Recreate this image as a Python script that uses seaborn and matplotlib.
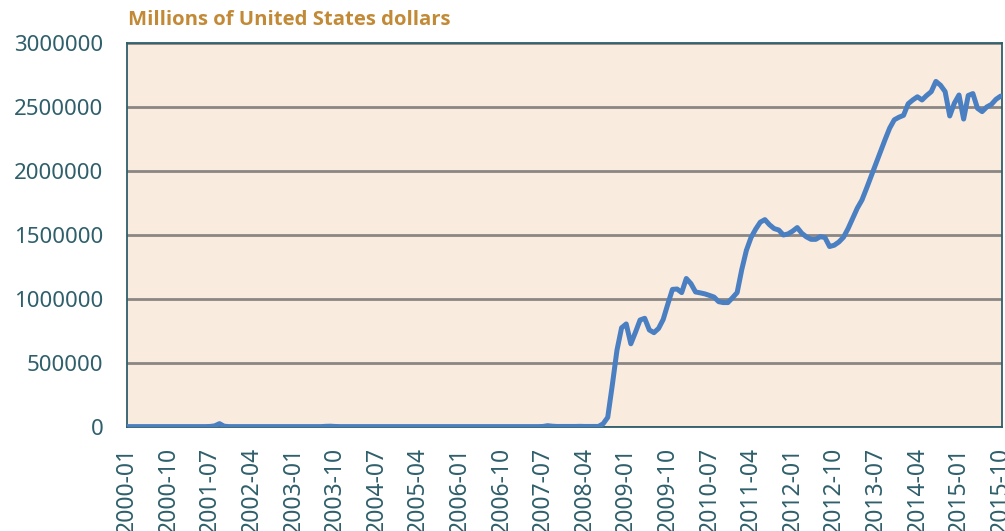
import pandas as pd
import matplotlib
matplotlib.use("Agg")
import matplotlib.pyplot as plt
import seaborn as sns

# 月度数据 2000-01 .. 2015-10
months = [str(p) for p in pd.period_range("2000-01", "2015-10", freq="M")]

values = [
    # 2000
    3000, 3000, 3000, 3000, 3000, 3000, 3000, 3000, 3000, 3000, 3000, 3000,
    # 2001
    3000, 3000, 3000, 3000, 3000, 3000, 4000, 9000, 26000, 6000, 3000, 3000,
    # 2002
    3000, 3000, 3000, 3000, 3000, 3000, 3000, 3000, 3000, 3000, 3000, 3000,
    # 2003
    3000, 3000, 3000, 3000, 3000, 3000, 3000, 5000, 6000, 4000, 3000, 3000,
    # 2004
    3000, 3000, 3000, 3000, 3000, 3000, 3000, 3000, 3000, 3000, 3000, 3000,
    # 2005
    3000, 3000, 3000, 3000, 3000, 3000, 3000, 3000, 3000, 3000, 3000, 3000,
    # 2006
    3000, 3000, 3000, 3000, 3000, 3000, 3000, 3000, 3000, 3000, 3000, 3000,
    # 2007
    3000, 3000, 3000, 3000, 3000, 3000, 4000, 10000, 6000, 4000, 4000, 4000,
    # 2008
    4000, 4000, 5000, 4000, 4000, 4000, 4000, 25000, 75000, 330000, 600000, 775000,
    # 2009
    805000, 650000, 740000, 836000, 849000, 758000, 737000, 770000, 840000, 960000, 1075000, 1078000,
    # 2010
    1050000, 1160000, 1120000, 1055000, 1048000, 1040000, 1028000, 1015000, 979000, 972000, 972000, 1010000,
    # 2011
    1050000, 1230000, 1380000, 1480000, 1545000, 1600000, 1620000, 1580000, 1550000, 1539000, 1500000, 1508000,
    # 2012
    1530000, 1558000, 1513000, 1485000, 1466000, 1466000, 1487000, 1480000, 1410000, 1420000, 1445000, 1482000,
    # 2013
    1550000, 1630000, 1710000, 1773000, 1865000, 1960000, 2055000, 2151000, 2245000, 2335000, 2400000, 2420000,
    # 2014
    2435000, 2525000, 2555000, 2580000, 2555000, 2590000, 2620000, 2700000, 2670000, 2620000, 2430000, 2530000,
    # 2015
    2594000, 2406000, 2590000, 2605000, 2490000, 2464000, 2500000, 2520000, 2560000, 2585000,
]

y_ticks = [0, 500000, 1000000, 1500000, 2000000, 2500000, 3000000]
tick_step = 9

df = pd.DataFrame({"idx": range(len(months)), "month": months, "value": values})

sns.set_style("white")
plt.rcParams['font.family'] = ['Noto Sans', 'DejaVu Sans']

text_color = "#2E5F6B"
line_color = "#4A7FC2"
bg_color = "#FAEBDF"
grid_color = "#8A8683"

fig = plt.figure(figsize=(10.05, 5.31), dpi=100)
ax = fig.add_axes([0.1264, 0.1959, 0.8706, 0.7231])
ax.set_facecolor(bg_color)

sns.lineplot(data=df, x="idx", y="value", ax=ax, color=line_color, linewidth=3.6, zorder=3)

ax.set_xlim(0, len(months) - 0.7)
ax.set_ylim(0, 3000000)
ax.set_yticks(y_ticks)
ax.set_yticklabels([str(v) for v in y_ticks])
tick_pos = list(range(0, len(months), tick_step))
ax.set_xticks(tick_pos)
ax.set_xticklabels([months[i] for i in tick_pos], rotation=90)

ax.yaxis.grid(True, color=grid_color, linewidth=2, zorder=1)
ax.xaxis.grid(False)
ax.set_axisbelow(True)

ax.tick_params(axis='y', length=0, pad=17, labelsize=16, labelcolor=text_color)
ax.tick_params(axis='x', length=0, pad=14, labelsize=16.5, labelcolor=text_color)
ax.set_xlabel("")
ax.set_ylabel("")

for side in ["left", "right", "top", "bottom"]:
    ax.spines[side].set_visible(True)
    ax.spines[side].set_color(text_color)
    ax.spines[side].set_linewidth(1.3)

fig.text(0.1274, 0.963, "Millions of United States dollars", color="#C28A36",
         fontsize=14.6, fontweight="bold", family=['Open Sans', 'DejaVu Sans'],
         ha="left", va="center")

fig.savefig("out.png", dpi=100)
